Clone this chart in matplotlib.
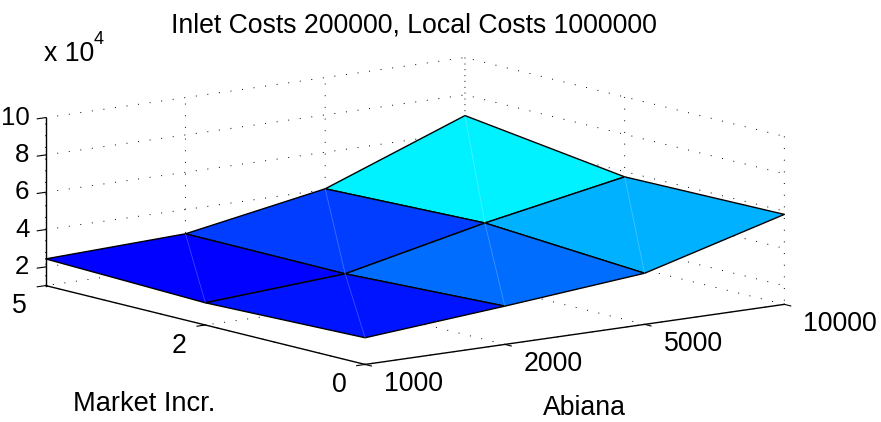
import matplotlib
matplotlib.use('Agg')
import matplotlib.pyplot as plt
from matplotlib.colors import LinearSegmentedColormap
from mpl_toolkits.mplot3d import proj3d
import numpy as np

plt.rcParams['font.family'] = ['Liberation Sans', 'DejaVu Sans']

# ---------- data ----------
abiana = ['1000', '2000', '5000', '10000']
market = ['0', '2', '5']
z_ticks = [20000, 40000, 60000, 80000, 100000]
z_labels = ['2', '4', '6', '8', '10']

# rows = market incr., columns = abiana
costs_0 = [24300, 30500, 37400, 58200]
costs_2 = [21900, 26700, 43200, 57200]
costs_5 = [24300, 27000, 40400, 68900]
# position on the jet colormap for each panel
levels_front = [0.145, 0.233, 0.297]
levels_back = [0.125, 0.184, 0.360]

# matlab style jet, blue part stays full up to cyan
jet = LinearSegmentedColormap.from_list('matlab_jet', [(0, (0, 0, 0.5)), (0.125, (0, 0, 1)),
                                                       (0.375, (0, 1, 1)), (0.625, (1, 1, 0)),
                                                       (0.875, (1, 0, 0)), (1, (0.5, 0, 0))])

# ---------- figure ----------
W, H = 881, 422
fig = plt.figure(figsize=(W / 100, H / 100), dpi=100)
S = 1060.6
ax = fig.add_axes([(415 - 0.5135 * S) / W, (211 - 0.5135 * S) / H, S / W, S / H],
                  projection='3d', computed_zorder=False)
ax.patch.set_alpha(0)
ax.set_proj_type('ortho')
ax.view_init(elev=10.84, azim=-127.3)
ax.set_box_aspect((527, 527, 171), zoom=0.7)

x_pos = np.arange(len(abiana))
y_pos = np.arange(len(market))
X, Y = np.meshgrid(x_pos, y_pos)
Z = np.array([costs_0, costs_2, costs_5], dtype=float)
colors = jet(np.array([levels_front, levels_back]))

ax.plot_surface(X, Y, Z, facecolors=colors, rstride=1, cstride=1, shade=False,
                edgecolor='black', linewidth=1.0, antialiased=True, zorder=2)

# faint seam across every panel
for i in range(len(market) - 1):
    for j in range(len(abiana) - 1):
        ax.plot([x_pos[j], x_pos[j + 1]], [y_pos[i], y_pos[i + 1]],
                [Z[i, j], Z[i + 1, j + 1]], color='white', alpha=0.25, lw=0.6, zorder=3)

ax.set_xlim(x_pos[0], x_pos[-1])
ax.set_ylim(y_pos[0], y_pos[-1])
ax.set_zlim(10000, 100000)

ax.set_xticks(x_pos)
ax.set_yticks(y_pos)
ax.set_zticks(z_ticks)

for axis in (ax.xaxis, ax.yaxis, ax.zaxis):
    axis.set_pane_color((1, 1, 1, 0))
    axis.pane.set_edgecolor('none')
    axis.line.set_linewidth(1.0)
    axis.line.set_color('black')
    axis._axinfo['tick']['inward_factor'] = 0.25
    axis._axinfo['tick']['outward_factor'] = 0.0
    axis._axinfo['tick']['linewidth'] = {True: 0.8, False: 0.8}
    axis._axinfo['grid']['color'] = 'black'
    axis._axinfo['grid']['linewidth'] = 0.7
    axis._axinfo['grid']['linestyle'] = (0, (1, 11))
    for tick in axis.get_major_ticks():
        tick.label1.set_visible(False)
    axis.get_offset_text().set_visible(False)


# tick labels by hand, mplot3d only moves its own straight off the box
def tick_text(x, y, z, label, ha, size=19.2):
    px, py, _ = proj3d.proj_transform(x, y, z, ax.get_proj())
    ax.text2D(px, py, label, transform=ax.transData, fontsize=size, ha=ha, va='center')


floor = ax.get_zlim()[0]
for x, label in zip(x_pos, abiana):
    tick_text(x, -0.119, floor - 7800, label, 'left')
for y, label in zip(y_pos, market):
    tick_text(-0.187, y, floor - 9000, label, 'center')
for z, label in zip(z_ticks, z_labels):
    tick_text(0, y_pos[-1] + 0.102, z - 2200, label, 'right', size=18.6)

# ---------- text ----------
fig.text(414 / W, 1 - 26 / H, 'Inlet Costs 200000, Local Costs 1000000',
         fontsize=19.2, ha='center', va='center')
fig.text(44 / W, 1 - 54 / H, 'x 10', fontsize=19.2, ha='left', va='center')
fig.text(94 / W, 1 - 40 / H, '4', fontsize=13, ha='left', va='center')
fig.text(144.5 / W, 1 - 404 / H, 'Market Incr.', fontsize=19.6, ha='center', va='center')
fig.text(584.5 / W, 1 - 408 / H, 'Abiana', fontsize=19.2, ha='center', va='center')

plt.savefig('out.png', dpi=100)
